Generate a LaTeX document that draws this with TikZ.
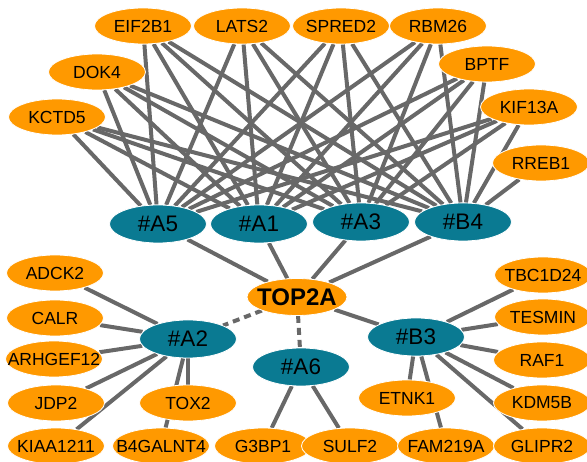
\documentclass[tikz,border=0pt]{standalone}
\usepackage{fontspec}
\setmainfont{Liberation Sans}
\usetikzlibrary{shapes.geometric}
\pgfdeclarelayer{bg}
\pgfsetlayers{bg,main}
\definecolor{gorange}{HTML}{FF9900}
\definecolor{gteal}{HTML}{0A7A92}
\definecolor{edgegray}{HTML}{686868}
\newcommand{\nlab}[1]{\makebox[0pt]{#1}}
\begin{document}
\begin{tikzpicture}[x=1pt, y=-1pt,
  gene/.style={ellipse, fill=gorange, draw=white, line width=0.8pt, minimum width=97pt, minimum height=36pt, inner sep=0pt, font=\fontsize{17.5}{20}\selectfont},
  hub/.style={gene, fill=gteal, minimum height=38pt, font=\fontsize{22.5}{26}\selectfont},
  core/.style={gene, minimum width=100pt, minimum height=37pt, font=\fontsize{24}{28}\selectfont\bfseries},
  link/.style={draw=edgegray, line width=4pt},
  dlink/.style={link, dash pattern=on 7pt off 5pt}]
\useasboundingbox (0,0) rectangle (587,462);
% top genes
\node[gene] (EIF2B1) at (143,26) {\nlab{EIF2B1}};
\node[gene] (LATS2) at (242,26) {\nlab{LATS2}};
\node[gene] (SPRED2) at (341,26) {\nlab{SPRED2}};
\node[gene] (RBM26) at (438,26) {\nlab{RBM26}};
\node[gene] (DOK4) at (97,72) {\nlab{DOK4}};
\node[gene] (BPTF) at (487,64) {\nlab{BPTF}};
\node[gene] (KCTD5) at (57,117) {\nlab{KCTD5}};
\node[gene] (KIF13A) at (529,107) {\nlab{KIF13A}};
\node[gene] (RREB1) at (541,163) {\nlab{RREB1}};
% hubs
\node[hub] (A5) at (158,224) {\nlab{\#A5}};
\node[hub] (A1) at (259,224) {\nlab{\#A1}};
\node[hub] (A3) at (361,222) {\nlab{\#A3}};
\node[hub] (B4) at (463,222) {\nlab{\#B4}};
\node[core] (TOP2A) at (297,297) {\nlab{TOP2A}};
\node[hub] (A2) at (188,339) {\nlab{\#A2}};
\node[hub] (A6) at (301,367) {\nlab{\#A6}};
\node[hub] (B3) at (416,337) {\nlab{\#B3}};
% left genes
\node[gene] (ADCK2) at (55,273) {\nlab{ADCK2}};
\node[gene] (CALR) at (55,318) {\nlab{CALR}};
\node[gene] (ARHGEF12) at (54,359) {\nlab{ARHGEF12}};
\node[gene] (JDP2) at (56,403) {\nlab{JDP2}};
\node[gene] (KIAA1211) at (56,446) {\nlab{KIAA1211}};
\node[gene] (TOX2) at (188,403) {\nlab{TOX2}};
\node[gene] (B4GALNT4) at (161,446) {\nlab{B4GALNT4}};
% bottom middle
\node[gene] (G3BP1) at (263,446) {\nlab{G3BP1}};
\node[gene] (SULF2) at (350,446) {\nlab{SULF2}};
% right genes
\node[gene] (ETNK1) at (407,398) {\nlab{ETNK1}};
\node[gene] (FAM219A) at (446,446) {\nlab{FAM219A}};
\node[gene] (GLIPR2) at (542,446) {\nlab{GLIPR2}};
\node[gene] (TBC1D24) at (543,275) {\nlab{TBC1D24}};
\node[gene] (TESMIN) at (543,317) {\nlab{TESMIN}};
\node[gene] (RAF1) at (542,360) {\nlab{RAF1}};
\node[gene] (KDM5B) at (542,403) {\nlab{KDM5B}};
\begin{pgfonlayer}{bg}
\foreach \g in {EIF2B1,LATS2,SPRED2,RBM26,DOK4,BPTF,KCTD5,KIF13A}
  \foreach \h in {A5,A1,A3,B4}
    \draw[link] (\g) -- (\h);
\draw[link] (RREB1) -- (B4);
\foreach \h in {A5,A1,A3,B4,B3}
  \draw[link] (TOP2A) -- (\h);
\draw[dlink] (TOP2A) -- (A2);
\draw[dlink] (TOP2A) -- (A6);
\foreach \g in {ADCK2,CALR,ARHGEF12,JDP2,KIAA1211,TOX2,B4GALNT4}
  \draw[link] (A2) -- (\g);
\foreach \g in {G3BP1,SULF2}
  \draw[link] (A6) -- (\g);
\foreach \g in {ETNK1,FAM219A,GLIPR2,TBC1D24,TESMIN,RAF1,KDM5B}
  \draw[link] (B3) -- (\g);
\end{pgfonlayer}
\end{tikzpicture}
\end{document}
